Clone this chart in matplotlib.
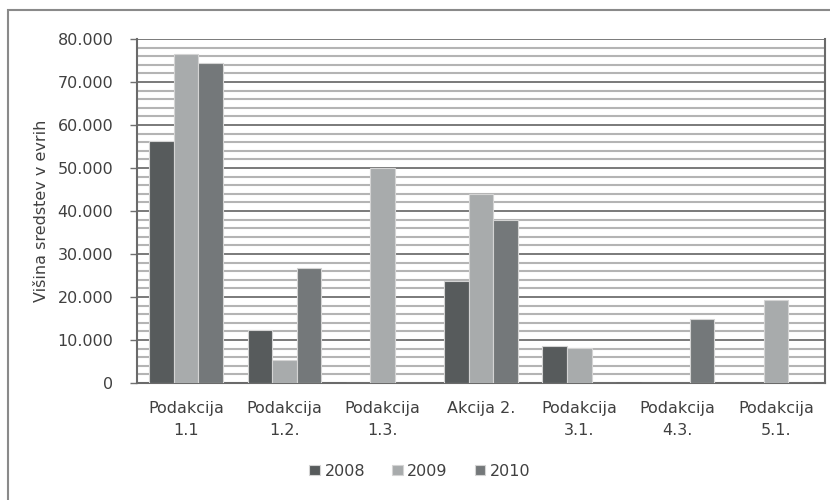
import matplotlib
matplotlib.use("Agg")
import matplotlib.pyplot as plt
from matplotlib.patches import Rectangle
from matplotlib.ticker import MultipleLocator, FuncFormatter
import numpy as np

categories = ["Podakcija\n1.1", "Podakcija\n1.2.", "Podakcija\n1.3.", "Akcija 2.",
              "Podakcija\n3.1.", "Podakcija\n4.3.", "Podakcija\n5.1."]
series_names = ["2008", "2009", "2010"]
v2008 = [56300, 12300, 0, 23800, 8500, 0, 0]
v2009 = [76500, 5400, 50000, 43900, 8200, 0, 19400]
v2010 = [74500, 26800, 0, 38000, 0, 15000, 0]
colors = ["#575b5c", "#a8abac", "#74787a"]

plt.rcParams['font.family'] = ['DejaVu Sans']
txt = "#404040"
fs = 11.5

fig = plt.figure(figsize=(8.3, 5.0), dpi=100)
ax = fig.add_axes([137/830, 1 - 383/500, (825 - 137)/830, (383 - 39)/500])

x = np.arange(len(categories))
w = 0.25
for i, (vals, c, n) in enumerate(zip([v2008, v2009, v2010], colors, series_names)):
    ax.bar(x + (i - 1) * w, vals, width=w, color=c, edgecolor="#d4d4d4",
           linewidth=0.8, label=n, zorder=3)

ax.set_xlim(-0.5, len(categories) - 0.5)
ax.set_ylim(0, 80000)
ax.yaxis.set_major_locator(MultipleLocator(10000))
ax.yaxis.set_minor_locator(MultipleLocator(2000))
ax.yaxis.set_major_formatter(FuncFormatter(lambda v, p: f"{int(v):,}".replace(",", ".")))
ax.grid(axis="y", which="minor", color="#b4b4b4", linewidth=1.5, zorder=1)
ax.grid(axis="y", which="major", color="#707070", linewidth=1.3, zorder=2)
ax.tick_params(axis="y", which="major", length=5, width=1, color="#707070",
               labelsize=fs, labelcolor=txt, pad=12)
ax.tick_params(axis="y", which="minor", length=0)
ax.set_xticks(x)
ax.set_xticklabels(categories, fontsize=fs, color=txt, linespacing=1.6)
ax.tick_params(axis="x", length=0, pad=13)

for s in ["left", "bottom", "right"]:
    ax.spines[s].set_color("#6a6a6a")
    ax.spines[s].set_linewidth(1.5)
ax.spines["top"].set_visible(False)

ax.set_ylabel("Višina sredstev v evrih", fontsize=fs, color=txt, labelpad=6)

leg = fig.legend(loc="center", bbox_to_anchor=(420/830, 1 - 471/500), ncol=3,
                 frameon=False, fontsize=fs, handlelength=0.65, handleheight=0.65,
                 handletextpad=0.3, columnspacing=1.7, labelcolor=txt)

fig.patches.append(Rectangle((8/830, -0.1), 1.2, 0.98 + 0.1, transform=fig.transFigure,
                             fill=False, edgecolor="#8a8a8a", linewidth=1.5))

fig.savefig("out.png", dpi=100)
